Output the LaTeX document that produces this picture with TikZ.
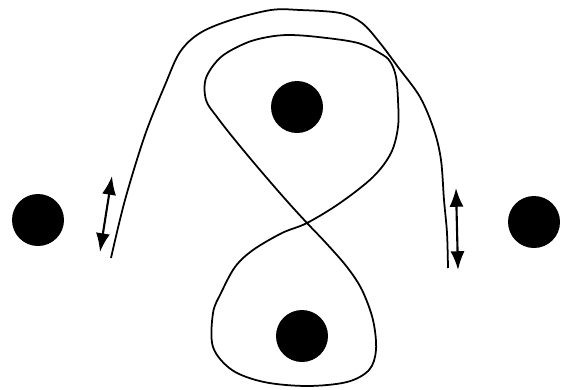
\documentclass[tikz,border=0pt]{standalone}
\usetikzlibrary{arrows.meta}
\begin{document}
\begin{tikzpicture}[x=0.03cm, y=-0.03cm, >={Latex[length=16pt,width=12pt]}]

% --- Styles ---
\tikzset{
    charge/.style={circle, fill=black, inner sep=0pt, minimum size=1.56cm},
    wire/.style={draw=black, line width=1.5pt, line join=round},
    swing/.style={<->, draw=black, line width=1.8pt}
}

% Frame
\useasboundingbox (0,0) rectangle (567,389);

% Ladingen
\node[charge] (qleft)   at (38,220)  {};
\node[charge] (qright)  at (534,222) {};
\node[charge] (qtop)    at (297,107) {};
\node[charge] (qbottom) at (302,336) {};

% Outer arc over the top charge
\draw[wire] plot[smooth, tension=0.55] coordinates {
    (111,258) (125,200) (145,135) (165,85) (180,52)
    (200,33) (231,20) (271,10) (300,10) (340,13) (362,23) (380,43)
    (398,67) (420,97) (434,130) (441,160) (444,200) (447,233) (448,268)};

% Figure eight around top and bottom charge
\draw[wire] plot[smooth cycle, tension=0.55] coordinates {
    (383,55) (358,43) (318,37) (289,35) (268,37) (246,43) (221,57) (206,78)
    (206,100) (217,117) (235,140) (260,170) (286,200) (307,223) (326,243)
    (347,267) (362,290) (373,320) (376,350) (369,370) (347,382) (307,386)
    (264,382) (232,370) (213,347) (213,313) (221,293) (235,267) (253,250)
    (282,233) (307,223) (340,203) (373,177) (391,153) (398,127) (398,100)
    (396,77) (391,63)};

% Swing arrows
\coordinate (la) at (112,176);
\coordinate (lb) at (100,252);
\coordinate (ra) at (456,188);
\coordinate (rb) at (458,270);
\draw[swing] (la) -- (lb);
\draw[swing] (ra) -- (rb);

\end{tikzpicture}
\end{document}
